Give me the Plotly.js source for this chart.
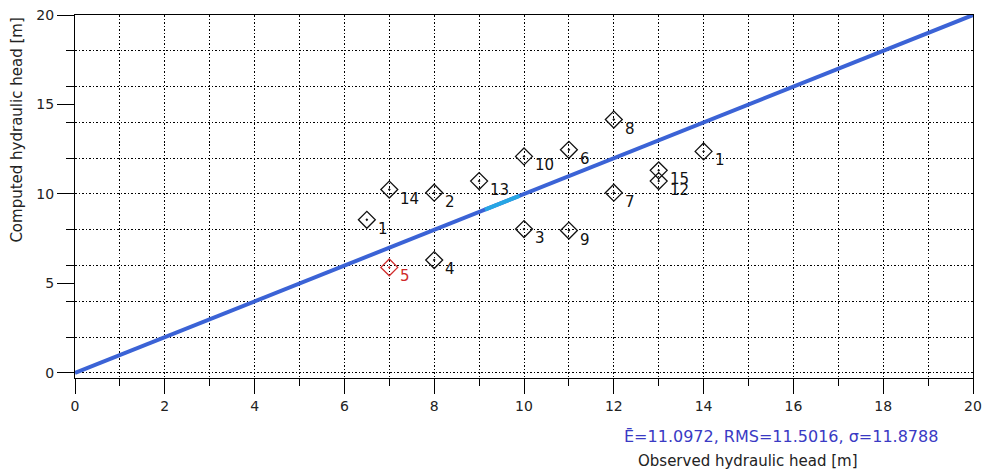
<!DOCTYPE html>
<html>
<head>
<meta charset="utf-8">
<script src="https://cdn.plot.ly/plotly-3.0.1.min.js"></script>
<style>html,body{margin:0;padding:0;background:#fff;}#chart{width:982px;height:470px;}</style>
</head>
<body>
<div id="chart"></div>
<script>
// Observation wells
const wellLabels = ["1", "14", "2", "13", "10", "6", "8", "1", "15", "12", "7", "3", "9", "4", "5"];
const observedHead = [6.5, 7, 8, 9, 10, 11, 12, 14, 13, 13, 12, 10, 11, 8, 7];
const computedHead = [8.56, 10.25, 10.07, 10.72, 12.1, 12.47, 14.16, 12.38, 11.32, 10.72, 10.07, 8.04, 7.96, 6.31, 5.9];
const pointColors = ["#111", "#111", "#111", "#111", "#111", "#111", "#111", "#111", "#111", "#111", "#111", "#111", "#111", "#111", "#d02a2a"];
// 1:1 line and highlighted segment
const lineX = [0, 20];
const lineY = [0, 20];
const highlightX = [9.13, 9.9];
const highlightY = [9.13, 9.9];
const statsText = "\u0112=11.0972, RMS=11.5016, \u03c3=11.8788";
const xTitle = "Observed hydraulic head [m]";
const yTitle = "Computed hydraulic head [m]";

const font = "DejaVu Sans, Verdana, sans-serif";

const traces = [
  {x: [null], y: [null], xaxis: 'x', yaxis: 'y2', mode: 'markers', showlegend: false, hoverinfo: 'skip'},
  {x: lineX, y: lineY, mode: 'lines', line: {color: '#3b63d6', width: 4}, showlegend: false, hoverinfo: 'skip'},
  {x: highlightX, y: highlightY, mode: 'lines', line: {color: '#26a6e4', width: 4}, showlegend: false, hoverinfo: 'skip'},
  {
    x: observedHead, y: computedHead,
    mode: 'markers',
    marker: {symbol: 'diamond-open-dot', size: 13, color: pointColors, line: {color: pointColors, width: 1.3}},
    showlegend: false
  }
];

const labelAnnotations = wellLabels.map((t, i) => ({
  text: t, x: observedHead[i], y: computedHead[i], xref: 'x', yref: 'y',
  xanchor: 'left', yanchor: 'middle', xshift: 9, yshift: -9, showarrow: false,
  font: {family: font, size: 15, color: pointColors[i]}
}));

const dotDash = '1.5px,2px';
const gridStyle = {showgrid: true, gridcolor: '#000', gridwidth: 1, griddash: dotDash};

const layout = {
  width: 982, height: 470,
  margin: {l: 75, r: 9, t: 15, b: 92},
  paper_bgcolor: '#fff', plot_bgcolor: '#fff',
  font: {family: font, size: 14, color: '#222'},
  showlegend: false,
  xaxis: Object.assign({
    range: [0, 20], dtick: 2, tick0: 0, ticks: 'outside', ticklen: 15, tickcolor: '#000', tickwidth: 1,
    showline: true, linecolor: '#000', linewidth: 1, mirror: true, zeroline: false,
    tickfont: {family: font, size: 14, color: '#222'},
    minor: Object.assign({dtick: 1, ticks: 'outside', ticklen: 7, tickcolor: '#000'}, gridStyle)
  }, gridStyle),
  yaxis: {
    range: [-0.28, 20], dtick: 5, tick0: 0, ticks: 'outside', ticklen: 17, tickcolor: '#000', tickwidth: 1,
    showline: true, linecolor: '#000', linewidth: 1, mirror: true, zeroline: false, showgrid: false,
    tickfont: {family: font, size: 14, color: '#222'}
  },
  yaxis2: Object.assign({
    overlaying: 'y', side: 'left', range: [-0.28, 20], dtick: 2, tick0: 0,
    ticks: 'outside', ticklen: 8, tickcolor: '#000', showticklabels: false,
    showline: false, zeroline: false
  }, gridStyle),
  annotations: labelAnnotations.concat([
    {text: statsText, xref: 'paper', yref: 'paper', x: 0.609, y: -0.1625, xanchor: 'left', yanchor: 'middle',
     showarrow: false, font: {family: font, size: 16, color: '#3a3ac4'}},
    {text: xTitle, xref: 'paper', yref: 'paper', x: 0.625, y: -0.2287, xanchor: 'left', yanchor: 'middle',
     showarrow: false, font: {family: font, size: 15, color: '#222'}},
    {text: yTitle, xref: 'paper', yref: 'paper', x: -0.064, y: 0.683, xanchor: 'center', yanchor: 'middle',
     textangle: -90, showarrow: false, font: {family: font, size: 15, color: '#222'}}
  ])
};

Plotly.newPlot('chart', traces, layout, {staticPlot: true, displayModeBar: false});
</script>
</body>
</html>
